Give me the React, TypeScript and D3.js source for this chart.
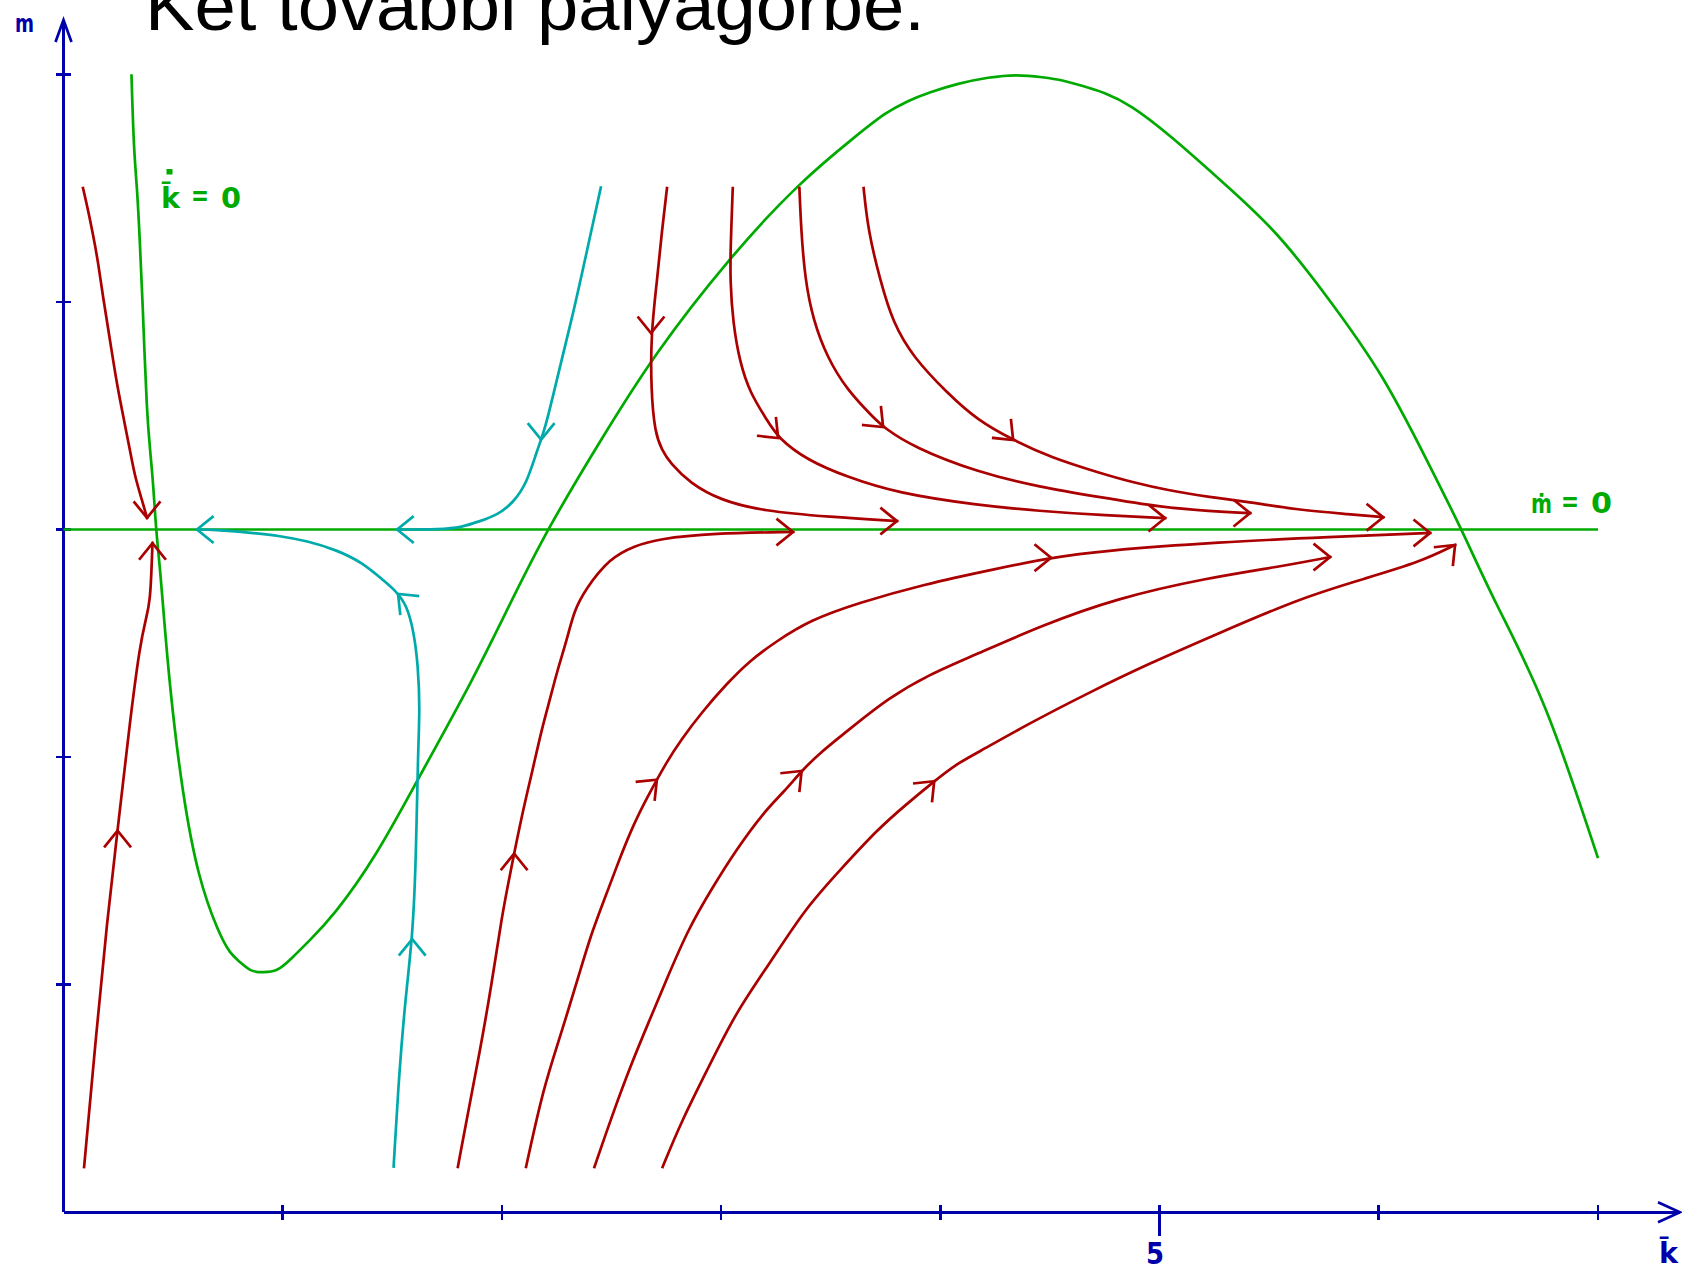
import React from "react";
import * as d3 from "d3";

type Pt = [number, number];

const WIDTH = 1682;
const HEIGHT = 1270;

// Axis ranges: k̄ horizontally, m vertically
const kDomain: Pt = [0, 7];
const mDomain: Pt = [0, 5];
const kTicks = [1, 2, 3, 4, 5, 6, 7];
const mTicks = [1, 2, 3, 4, 5];
const kLabelledTick = 5;

const titleText = "Két további pályagörbe.";
const kDotLabel = ["k\u0304", "=", "0"];
const mDotLabel = ["\u1e41", "=", "0"];
const kAxisLabel = "k\u0304";
const mAxisLabel = "m";

// k̇ = 0 nullcline
const kDotZero: Pt[] = [
  [0.31, 5.0], [0.321, 4.66], [0.336, 4.5], [0.348, 4.27], [0.361, 4.0], [0.38, 3.5],
  [0.398, 3.32], [0.41, 3.19], [0.422, 3.0], [0.44, 2.83], [0.452, 2.69], [0.484, 2.31],
  [0.542, 1.839], [0.616, 1.462], [0.706, 1.231], [0.76, 1.135], [0.805, 1.1], [0.856, 1.056],
  [0.912, 1.054], [0.974, 1.058], [1.033, 1.108], [1.124, 1.196], [1.227, 1.297], [1.423, 1.556],
  [1.643, 1.95], [1.863, 2.33], [2.04, 2.68], [2.206, 3.0], [2.451, 3.394], [2.695, 3.771],
  [3.038, 4.195], [3.356, 4.525], [3.625, 4.737], [3.75, 4.832], [3.85, 4.883], [3.95, 4.921],
  [4.08, 4.96], [4.22, 4.987], [4.345, 5.0], [4.47, 4.987], [4.56, 4.974], [4.655, 4.947],
  [4.745, 4.921], [4.865, 4.868], [5.045, 4.735], [5.289, 4.525], [5.534, 4.313], [5.778, 4.007],
  [6.023, 3.677], [6.219, 3.305], [6.379, 3.0], [6.523, 2.69], [6.757, 2.263], [7.0, 1.556],
];

// ṁ = 0 nullcline (horizontal)
const mDotZero: Pt[] = [[0, 3], [7, 3]];

// Saddle-path arms and trajectories
const redUpperLeft: Pt[] = [
  [0.089, 4.5], [0.112, 4.404], [0.135, 4.294], [0.158, 4.175], [0.18, 4.022], [0.212, 3.833],
  [0.244, 3.635], [0.276, 3.481], [0.303, 3.349], [0.326, 3.231], [0.358, 3.13], [0.381, 3.051],
];
const redUpperLeftArrows: Pt[] = [];

const redLowerLeft: Pt[] = [
  [0.094, 0.199], [0.151, 0.801], [0.198, 1.275], [0.249, 1.697], [0.299, 2.124], [0.349, 2.5],
  [0.38, 2.62], [0.395, 2.69], [0.402, 2.835], [0.406, 2.94],
];
const redLowerLeftArrows: Pt[] = [[0.262, 1.675]];

const cyanUpper: Pt[] = [
  [2.451, 4.502], [2.392, 4.243], [2.328, 3.96], [2.255, 3.677], [2.197, 3.44], [2.16, 3.348],
  [2.114, 3.204], [2.05, 3.116], [1.978, 3.063], [1.9, 3.037], [1.818, 3.01], [1.72, 3.0], [1.522, 3.0],
];
const cyanUpperArrows: Pt[] = [[2.181, 3.394]];

const cyanLower: Pt[] = [
  [1.506, 0.201], [1.531, 0.613], [1.56, 0.943], [1.594, 1.227], [1.608, 1.556], [1.617, 2.026],
  [1.626, 2.215], [1.617, 2.404], [1.599, 2.545], [1.567, 2.668], [1.512, 2.734], [1.457, 2.778],
  [1.366, 2.853], [1.247, 2.91], [1.11, 2.95], [0.987, 2.972], [0.864, 2.985], [0.682, 3.0], [0.609, 3.0],
];
const cyanLowerArrows: Pt[] = [[1.594, 1.2], [1.53, 2.72]];

const redTop1: Pt[] = [
  [2.753, 4.5], [2.73, 4.315], [2.708, 4.096], [2.68, 3.863], [2.68, 3.612], [2.698, 3.424],
  [2.73, 3.349], [2.767, 3.292], [2.858, 3.204], [2.995, 3.129], [3.191, 3.081], [3.497, 3.055], [3.802, 3.037],
];
const redTop1Arrows: Pt[] = [[2.68, 3.863]];

const redTop2: Pt[] = [
  [3.053, 4.5], [3.043, 4.241], [3.041, 4.096], [3.054, 3.907], [3.086, 3.731], [3.132, 3.6],
  [3.209, 3.481], [3.26, 3.402], [3.392, 3.305], [3.574, 3.231], [3.802, 3.16], [4.167, 3.107],
  [4.455, 3.081], [4.729, 3.063], [5.025, 3.05],
];
const redTop2Arrows: Pt[] = [[3.26, 3.402]];

const redTop3: Pt[] = [
  [3.357, 4.5], [3.365, 4.315], [3.383, 4.096], [3.42, 3.92], [3.483, 3.757], [3.575, 3.612],
  [3.693, 3.494], [3.739, 3.45], [3.876, 3.362], [4.168, 3.252], [4.455, 3.186], [4.729, 3.142],
  [5.003, 3.098], [5.231, 3.08], [5.413, 3.072],
];
const redTop3Arrows: Pt[] = [[3.739, 3.45]];

const redTop4: Pt[] = [
  [3.65, 4.5], [3.67, 4.315], [3.725, 4.096], [3.784, 3.907], [3.876, 3.757], [4.031, 3.6],
  [4.168, 3.481], [4.332, 3.393], [4.5, 3.318], [4.729, 3.248], [4.875, 3.208], [5.034, 3.173],
  [5.23, 3.142], [5.413, 3.12], [5.641, 3.085], [5.869, 3.067], [6.02, 3.054],
];
const redTop4Arrows: Pt[] = [[4.332, 3.393]];

const redBottom1: Pt[] = [
  [1.799, 0.199], [1.843, 0.427], [1.898, 0.699], [1.953, 1.001], [2.0, 1.304], [2.04, 1.501],
  [2.094, 1.758], [2.139, 1.939], [2.181, 2.121], [2.22, 2.257], [2.252, 2.378], [2.296, 2.514],
  [2.329, 2.642], [2.379, 2.735], [2.493, 2.876], [2.607, 2.928], [2.708, 2.958], [2.963, 2.984], [3.328, 2.989],
];
const redBottom1Arrows: Pt[] = [[2.055, 1.576]];

const redBottom2: Pt[] = [
  [2.11, 0.199], [2.189, 0.547], [2.267, 0.775], [2.362, 1.077], [2.409, 1.228], [2.487, 1.425],
  [2.534, 1.546], [2.597, 1.697], [2.66, 1.819], [2.755, 1.985], [2.817, 2.076], [2.912, 2.197],
  [3.021, 2.318], [3.131, 2.424], [3.249, 2.507], [3.406, 2.602], [3.625, 2.677], [3.919, 2.758],
  [4.261, 2.829], [4.505, 2.876], [4.729, 2.906], [5.276, 2.945], [5.778, 2.967], [6.234, 2.985],
];
const redBottom2Arrows: Pt[] = [[2.708, 1.9], [4.505, 2.876]];

const redBottom3: Pt[] = [
  [2.422, 0.199], [2.503, 0.427], [2.597, 0.669], [2.676, 0.85], [2.755, 1.032], [2.849, 1.243],
  [2.959, 1.425], [3.068, 1.592], [3.194, 1.758], [3.288, 1.849], [3.367, 1.939], [3.446, 2.015],
  [3.603, 2.136], [3.76, 2.257], [3.948, 2.363], [4.152, 2.446], [4.455, 2.576], [4.806, 2.699],
  [5.217, 2.787], [5.536, 2.835], [5.778, 2.879],
];
const redBottom3Arrows: Pt[] = [[3.367, 1.939]];

const redBottom4: Pt[] = [
  [2.733, 0.199], [2.817, 0.396], [2.943, 0.638], [3.068, 0.88], [3.226, 1.1], [3.383, 1.334],
  [3.54, 1.501], [3.713, 1.682], [3.839, 1.788], [3.972, 1.894], [4.074, 1.97], [4.161, 2.015],
  [4.409, 2.15], [4.683, 2.286], [4.957, 2.413], [5.23, 2.527], [5.641, 2.699], [5.946, 2.787],
  [6.188, 2.857], [6.348, 2.932],
];
const redBottom4Arrows: Pt[] = [[3.972, 1.894]];

const AXIS_COLOR = "#0000aa";
const GREEN = "#00aa00";
const RED = "#aa0000";
const CYAN = "#00aaaa";
const LINE_W = 2.7;

const x = d3.scaleLinear().domain(kDomain).range([63.5, 1598]);
const y = d3.scaleLinear().domain(mDomain).range([1212.3, 74.3]);

const curve = d3
  .line<Pt>()
  .x((d) => x(d[0]))
  .y((d) => y(d[1]))
  .curve(d3.curveBasis);

const straight = d3
  .line<Pt>()
  .x((d) => x(d[0]))
  .y((d) => y(d[1]));

type Trajectory = { pts: Pt[]; color: string; marks: Pt[] };

const cyanTrajectories: Trajectory[] = [
  { pts: cyanUpper, color: CYAN, marks: cyanUpperArrows },
  { pts: cyanLower, color: CYAN, marks: cyanLowerArrows },
];

const redTrajectories: Trajectory[] = [
  { pts: redUpperLeft, color: RED, marks: redUpperLeftArrows },
  { pts: redLowerLeft, color: RED, marks: redLowerLeftArrows },
  { pts: redTop1, color: RED, marks: redTop1Arrows },
  { pts: redTop2, color: RED, marks: redTop2Arrows },
  { pts: redTop3, color: RED, marks: redTop3Arrows },
  { pts: redTop4, color: RED, marks: redTop4Arrows },
  { pts: redBottom1, color: RED, marks: redBottom1Arrows },
  { pts: redBottom2, color: RED, marks: redBottom2Arrows },
  { pts: redBottom3, color: RED, marks: redBottom3Arrows },
  { pts: redBottom4, color: RED, marks: redBottom4Arrows },
];

const snap45 = (a: number) => Math.round(a / (Math.PI / 4)) * (Math.PI / 4);

// closest point of the polyline (in pixels) plus the heading of that segment
function locate(pts: Pt[], p: Pt) {
  const px = pts.map((d) => [x(d[0]), y(d[1])] as Pt);
  const q: Pt = [x(p[0]), y(p[1])];
  let best = { d: Infinity, pt: q, ang: 0 };
  for (let i = 0; i < px.length - 1; i++) {
    const [x1, y1] = px[i];
    const [x2, y2] = px[i + 1];
    const dx = x2 - x1;
    const dy = y2 - y1;
    const len2 = dx * dx + dy * dy;
    let t = len2 ? ((q[0] - x1) * dx + (q[1] - y1) * dy) / len2 : 0;
    t = Math.max(0, Math.min(1, t));
    const cx = x1 + t * dx;
    const cy = y1 + t * dy;
    const d = Math.hypot(q[0] - cx, q[1] - cy);
    if (d < best.d) best = { d, pt: [cx, cy], ang: Math.atan2(dy, dx) };
  }
  return best;
}

function arrowHead(tip: Pt, ang: number, len = 20, spread = 0.68) {
  const a1 = ang + Math.PI - spread;
  const a2 = ang + Math.PI + spread;
  return `M${tip[0] + len * Math.cos(a1)},${tip[1] + len * Math.sin(a1)}L${tip[0]},${tip[1]}L${
    tip[0] + len * Math.cos(a2)
  },${tip[1] + len * Math.sin(a2)}`;
}

function TrajectoryPath({ t }: { t: Trajectory }) {
  const n = t.pts.length;
  const endTip: Pt = [x(t.pts[n - 1][0]), y(t.pts[n - 1][1])];
  const prev: Pt = [x(t.pts[n - 2][0]), y(t.pts[n - 2][1])];
  const endAng = snap45(Math.atan2(endTip[1] - prev[1], endTip[0] - prev[0]));
  return (
    <g fill="none" stroke={t.color} strokeWidth={LINE_W} strokeLinecap="square" strokeLinejoin="miter">
      <path d={curve(t.pts) ?? ""} />
      {t.marks.map((m, i) => {
        const loc = locate(t.pts, m);
        return <path key={i} d={arrowHead(loc.pt, snap45(loc.ang))} />;
      })}
      <path d={arrowHead(endTip, endAng)} />
    </g>
  );
}

// a single glyph group squeezed to a fixed width
function Glyph({
  x0,
  base,
  w,
  size,
  color,
  children,
}: {
  x0: number;
  base: number;
  w: number;
  size: number;
  color: string;
  children: string;
}) {
  return (
    <text
      x={x0}
      y={base}
      textLength={w}
      lengthAdjust="spacingAndGlyphs"
      fontFamily="'DejaVu Sans', 'Liberation Sans', sans-serif"
      fontWeight="bold"
      fontSize={size}
      fill={color}
    >
      {children}
    </text>
  );
}

export default function App() {
  const x0 = x(0);
  const y0 = y(0);
  return (
    <svg
      width={WIDTH}
      height={HEIGHT}
      viewBox={`0 0 ${WIDTH} ${HEIGHT}`}
      style={{ position: "absolute", left: 0, top: 0, background: "#fff" }}
    >
      <rect width={WIDTH} height={HEIGHT} fill="#fff" />

      {/* title */}
      <text
        x={145}
        y={30}
        fontFamily="'Liberation Sans', Arial, sans-serif"
        fontSize={70}
        textLength={780}
        lengthAdjust="spacingAndGlyphs"
        fill="#000"
      >
        {titleText}
      </text>

      {/* axes */}
      <g stroke={AXIS_COLOR} strokeWidth={2.7} fill="none" shapeRendering="crispEdges">
        <line x1={x0} y1={y0} x2={1680} y2={y0} />
        <line x1={x0} y1={y0} x2={x0} y2={20} />
        {kTicks.map((k) => (
          <line key={k} x1={x(k)} x2={x(k)} y1={y0 - 7.5} y2={k === kLabelledTick ? y0 + 24 : y0 + 7.5} />
        ))}
        {mTicks.map((m) => (
          <line key={m} x1={x0 - 7.5} x2={x0 + 7.5} y1={y(m)} y2={y(m)} />
        ))}
      </g>
      <g stroke={AXIS_COLOR} strokeWidth={2.7} fill="none">
        <path d={`M${1658},${y0 - 10}L${1680},${y0}L${1658},${y0 + 10}`} />
        <path d={`M${x0 - 8},${42}L${x0},${20}L${x0 + 8},${42}`} />
      </g>
      <Glyph x0={1146} base={1264} w={18} size={30} color={AXIS_COLOR}>
        {String(kLabelledTick)}
      </Glyph>
      <Glyph x0={1659} base={1263} w={19} size={28} color={AXIS_COLOR}>
        {kAxisLabel}
      </Glyph>
      <Glyph x0={15} base={32} w={19} size={25} color={AXIS_COLOR}>
        {mAxisLabel}
      </Glyph>

      {/* nullclines */}
      <g fill="none" stroke={GREEN} strokeWidth={LINE_W}>
        <path d={curve(kDotZero) ?? ""} />
        <path d={straight(mDotZero) ?? ""} />
      </g>
      <Glyph x0={161} base={208} w={19} size={28} color={GREEN}>
        {kDotLabel[0]}
      </Glyph>
      <rect x={166.5} y={169} width={6} height={5.5} fill={GREEN} />
      <Glyph x0={191} base={205} w={18} size={28} color={GREEN}>
        {kDotLabel[1]}
      </Glyph>
      <Glyph x0={221} base={208} w={20} size={28} color={GREEN}>
        {kDotLabel[2]}
      </Glyph>
      <Glyph x0={1531} base={513} w={21} size={26} color={GREEN}>
        {mDotLabel[0]}
      </Glyph>
      <Glyph x0={1561} base={511} w={18} size={28} color={GREEN}>
        {mDotLabel[1]}
      </Glyph>
      <Glyph x0={1591} base={513} w={21} size={28} color={GREEN}>
        {mDotLabel[2]}
      </Glyph>

      {/* trajectories */}
      {cyanTrajectories.map((t, i) => (
        <TrajectoryPath key={`c${i}`} t={t} />
      ))}
      {redTrajectories.map((t, i) => (
        <TrajectoryPath key={`r${i}`} t={t} />
      ))}
    </svg>
  );
}
